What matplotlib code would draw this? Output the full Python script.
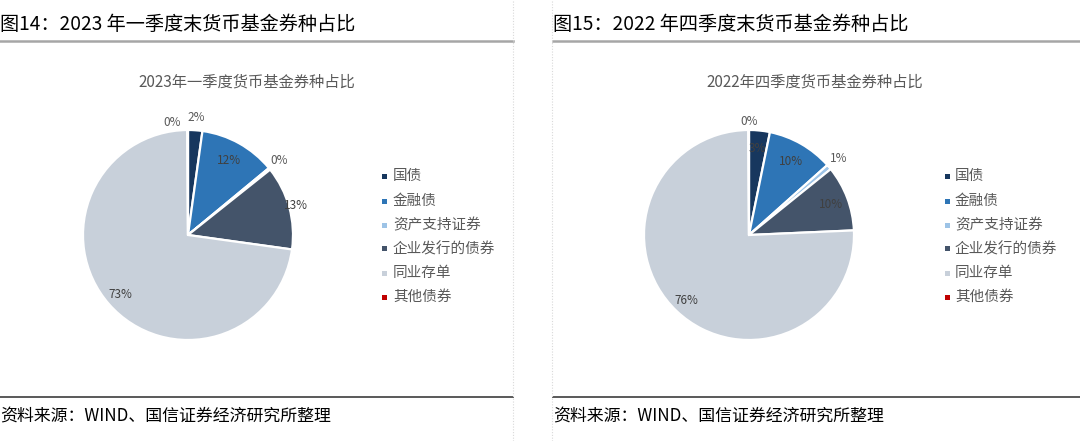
import matplotlib
matplotlib.use("Agg")
import matplotlib.pyplot as plt
import numpy as np
from matplotlib.patches import Rectangle
from matplotlib.lines import Line2D

plt.rcParams['font.family'] = ['Noto Sans CJK SC', 'DejaVu Sans']

categories = ["国债", "金融债", "资产支持证券", "企业发行的债券", "同业存单", "其他债券"]
values_2023q1 = [2.2, 11.8, 0.3, 12.9, 72.7, 0.1]
values_2022q4 = [3.2, 10.2, 0.8, 10.1, 75.6, 0.1]
header_left = "图14：2023 年一季度末货币基金券种占比"
header_right = "图15：2022 年四季度末货币基金券种占比"
title_left = "2023年一季度货币基金券种占比"
title_right = "2022年四季度货币基金券种占比"
source_text = "资料来源：WIND、国信证券经济研究所整理"

colors = ["#17375E", "#2E75B6", "#9DC3E6", "#44546A", "#C8D0DA", "#C00000"]

W, H = 1080, 441
fig = plt.figure(figsize=(W / 100, H / 100), dpi=100)
fig.patch.set_facecolor("white")


def px(x, y):
    return x / W, 1 - y / H


# label styling per slice: (radius factor, angle nudge in degrees, text colour)
label_style_left = [(1.12, 0, "#595959"), (0.81, 0, "#404040"),
                    (1.12, 0, "#595959"), (1.07, 0, "#404040"),
                    (0.86, 0, "#404040"), (1.08, 8, "#595959")]
label_style_right = [(0.83, 0, "#404040"), (0.81, 0, "#404040"),
                     (1.12, 0, "#595959"), (0.83, 0, "#404040"),
                     (0.86, 0, "#404040"), (1.08, 0, "#595959")]


def draw_panel(x0, values, title, header, label_style, legend_x, cx, title_cx):
    r = 105
    cy = 235
    ax = fig.add_axes([(cx - r) / W, 1 - (cy + r) / H, 2 * r / W, 2 * r / H])
    ax.pie(values, colors=colors, startangle=90, counterclock=False,
           radius=1.0, wedgeprops=dict(edgecolor="white", linewidth=1.6))
    ax.set_xlim(-1, 1)
    ax.set_ylim(-1, 1)
    ax.set_aspect("equal")
    ax.axis("off")
    total = sum(values)
    cum = 0
    for v, (rf, nudge, col) in zip(values, label_style):
        mid = 90 - (cum + v / 2) / total * 360 + nudge
        cum += v
        th = np.deg2rad(mid)
        ax.text(rf * np.cos(th), rf * np.sin(th), f"{v:.0f}%", ha="center", va="center",
                fontsize=8.5, color=col, clip_on=False)
    # chart title
    fig.text(*px(title_cx, 82), title, ha="center", va="center",
             fontsize=11, color="#595959")
    # header
    fig.text(*px(x0, 24), header, ha="left", va="center", fontsize=13.8, color="#000000")
    # legend
    ys = [176, 201, 225, 249, 273, 297]
    for cat, col, yy in zip(categories, colors, ys):
        fx, fy = px(legend_x, yy)
        fig.patches.append(Rectangle((fx - 2.5 / W, fy - 2.5 / H), 5 / W, 5 / H,
                                     transform=fig.transFigure, facecolor=col,
                                     edgecolor="none"))
        fig.text(*px(legend_x + 8, yy), cat, ha="left", va="center", fontsize=10.5,
                 color="#595959")
    # source
    fig.text(*px(x0, 415), source_text, ha="left", va="center", fontsize=12.2,
             color="#000000")


draw_panel(0, values_2023q1, title_left, header_left, label_style_left, 385, 188, 247)
draw_panel(553, values_2022q4, title_right, header_right, label_style_right, 947, 749, 815)

# separator lines
for xa, xb in [(0, 513), (553, 1080)]:
    fig.add_artist(Line2D([xa / W, xb / W], [1 - 41 / H, 1 - 41 / H], color="#A6A6A6",
                          linewidth=1.8, transform=fig.transFigure))
    fig.add_artist(Line2D([xa / W, xb / W], [1 - 397 / H, 1 - 397 / H], color="#595959",
                          linewidth=1.4, transform=fig.transFigure))
for xv in [513, 552]:
    fig.add_artist(Line2D([xv / W, xv / W], [0, 1], color="#D9D9D9", linewidth=0.8,
                          linestyle=(0, (1, 1.5)), transform=fig.transFigure))

fig.savefig("out.png", dpi=100, facecolor="white")
